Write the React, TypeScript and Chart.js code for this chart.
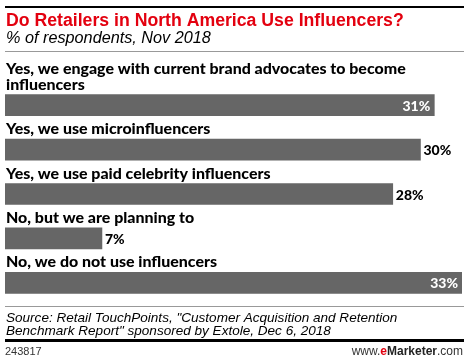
import { useEffect, useRef } from "react";
import { Chart, registerables } from "chart.js";

Chart.register(...registerables);

const titleText = "Do Retailers in North America Use Influencers?";
const subtitleText = "% of respondents, Nov 2018";
const categories: string[][] = [
  ["Yes, we engage with current brand advocates to become", "influencers"],
  ["Yes, we use microinfluencers"],
  ["Yes, we use paid celebrity influencers"],
  ["No, but we are planning to"],
  ["No, we do not use influencers"],
];
const values = [31, 30, 28, 7, 33];
const valueLabels = ["31%", "30%", "28%", "7%", "33%"];
const sourceLines = [
  "Source: Retail TouchPoints, \"Customer Acquisition and Retention",
  "Benchmark Report\" sponsored by Extole, Dec 6, 2018",
];
const chartId = "243817";

const RED = "#e3000f";
const BAR = "#666666";

function fit(ctx: CanvasRenderingContext2D, text: string, style: string, family: string, target: number) {
  ctx.font = `${style} 20px ${family}`;
  const w = ctx.measureText(text).width;
  return (20 * target) / w;
}

const decorPlugin = {
  id: "decor",
  afterDraw(chart: any) {
    const ctx: CanvasRenderingContext2D = chart.ctx;
    ctx.save();
    // top rule
    ctx.fillStyle = "#000";
    ctx.fillRect(5, 6, 459, 2);
    // title
    const tSize = fit(ctx, titleText, "bold", "'Liberation Sans', Arial, sans-serif", 398);
    ctx.font = `bold ${tSize}px 'Liberation Sans', Arial, sans-serif`;
    ctx.fillStyle = RED;
    ctx.textBaseline = "alphabetic";
    ctx.textAlign = "left";
    ctx.fillText(titleText, 6, 26);
    // subtitle
    const sSize = fit(ctx, subtitleText, "italic", "'Liberation Sans', Arial, sans-serif", 205);
    ctx.font = `italic ${sSize}px 'Liberation Sans', Arial, sans-serif`;
    ctx.fillStyle = "#000";
    ctx.fillText(subtitleText, 6, 43);
    // rule under header
    ctx.fillStyle = "#999";
    ctx.fillRect(5, 51, 459, 1);
    // rule above source
    ctx.fillRect(5, 306, 459, 1);
    // source
    const srcSize = fit(ctx, sourceLines[0], "italic", "'Liberation Sans', Arial, sans-serif", 392);
    ctx.font = `italic ${srcSize}px 'Liberation Sans', Arial, sans-serif`;
    ctx.fillStyle = "#000";
    ctx.fillText(sourceLines[0], 6, 322);
    ctx.fillText(sourceLines[1], 6, 335);
    // thick black rule
    ctx.fillRect(5, 339, 459, 3);
    // footer
    ctx.font = "11px 'Liberation Sans', Arial, sans-serif";
    ctx.fillStyle = "#333";
    ctx.fillText(chartId, 5, 355);
    const parts = [
      { t: "www.", f: "12px 'Liberation Sans', Arial, sans-serif", c: "#333" },
      { t: "e", f: "bold 12px 'Liberation Sans', Arial, sans-serif", c: RED },
      { t: "Marketer", f: "bold 12px 'Liberation Sans', Arial, sans-serif", c: "#222" },
      { t: ".com", f: "12px 'Liberation Sans', Arial, sans-serif", c: "#333" },
    ];
    let total = 0;
    for (const p of parts) {
      ctx.font = p.f;
      total += ctx.measureText(p.t).width;
    }
    let x = 463 - total;
    for (const p of parts) {
      ctx.font = p.f;
      ctx.fillStyle = p.c;
      ctx.fillText(p.t, x, 355);
      x += ctx.measureText(p.t).width;
    }
    ctx.restore();
  },
  afterDatasetsDraw(chart: any) {
    const ctx: CanvasRenderingContext2D = chart.ctx;
    const meta = chart.getDatasetMeta(0);
    const area = chart.chartArea;
    ctx.save();
    const fam = "Lato, 'Liberation Sans', sans-serif";
    const lSize = fit(ctx, categories[0][0], "900", fam, 400);
    meta.data.forEach((el: any, i: number) => {
      const top = el.y - el.height / 2;
      ctx.font = `900 ${lSize}px ${fam}`;
      ctx.fillStyle = "#000";
      ctx.textAlign = "left";
      ctx.textBaseline = "alphabetic";
      const lines = categories[i];
      lines.forEach((ln, j) => {
        const y = top - 5 - (lines.length - 1 - j) * 16;
        ctx.fillText(ln, 6, y);
      });
      ctx.font = `900 14px ${fam}`;
      const lbl = valueLabels[i];
      const w = ctx.measureText(lbl).width;
      ctx.textBaseline = "middle";
      if (el.x + 4 + w > area.right) {
        ctx.fillStyle = "#fff";
        ctx.textAlign = "right";
        ctx.fillText(lbl, el.x - 4, el.y + 1);
      } else {
        ctx.fillStyle = "#000";
        ctx.textAlign = "left";
        ctx.fillText(lbl, el.x + 3, el.y + 1);
      }
    });
    ctx.restore();
  },
};

export default function App() {
  const ref = useRef<HTMLCanvasElement>(null);
  useEffect(() => {
    if (!ref.current) return;
    const chart = new Chart(ref.current, {
      type: "bar",
      data: {
        labels: categories.map((c) => c.join(" ")),
        datasets: [
          {
            data: values,
            backgroundColor: BAR,
            barThickness: 21,
            borderWidth: 0,
          },
        ],
      },
      options: {
        indexAxis: "y",
        animation: false,
        responsive: false,
        events: [],
        layout: { padding: { left: 5, right: 8, top: 83, bottom: 57 } },
        scales: {
          x: { display: false, min: 0, max: 33 },
          y: { display: false },
        },
        plugins: {
          legend: { display: false },
          tooltip: { enabled: false },
          title: { display: false },
        },
      },
      plugins: [decorPlugin],
    });
    return () => chart.destroy();
  }, []);
  return (
    <div style={{ position: "fixed", left: 0, top: 0, width: 470, height: 362, background: "#fff" }}>
      <canvas ref={ref} width={470} height={362} style={{ display: "block" }} />
    </div>
  );
}
